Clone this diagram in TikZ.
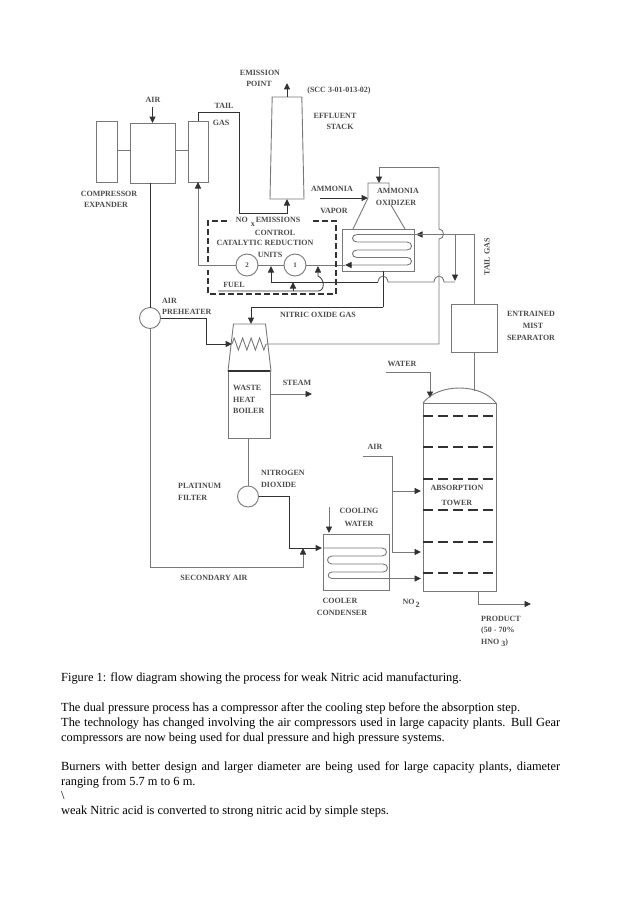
\documentclass[tikz,border=0pt]{standalone}
\usepackage{fontspec}
\setmainfont{Liberation Serif}
\usepackage{xcolor}
\usetikzlibrary{
  shapes.geometric,
  arrows.meta,
  positioning,
  decorations.pathmorphing
}
\definecolor{pipedark}{RGB}{50, 50, 50}
\definecolor{pipegray}{RGB}{120, 120, 120}
\definecolor{lblgray}{RGB}{75, 75, 75}
\tikzset{
  unit/.style 2 args = {
    rectangle, draw=pipegray, line width=0.9pt, inner sep=0pt, outer sep=0pt,
    minimum width=#1, minimum height=#2
  },
  taper/.style n args = {3}{
    trapezium, draw=pipegray, line width=0.9pt, inner sep=1pt, outer sep=0pt,
    trapezium stretches=true, trapezium left angle=#3, trapezium right angle=#3,
    minimum width=#1, minimum height=#2
  },
  vessel/.style = {
    circle, draw=pipegray, line width=0.9pt, inner sep=0pt, outer sep=0pt,
    minimum size=#1, font=\fontsize{7}{8}\selectfont\bfseries, text=lblgray
  },
  vessel/.default = 22pt,
  pipe/.style = {draw=pipegray, line width=0.9pt},
  pipedk/.style = {draw=pipedark, line width=1pt},
  arr/.style = {-{Triangle[length=6.5pt,width=6pt,color=pipedark]}, draw=pipegray, line width=0.9pt},
  arrdk/.style = {-{Triangle[length=6.5pt,width=6pt]}, draw=pipedark, line width=1pt},
  ctrlbox/.style = {draw=pipedark, line width=1.3pt, dash pattern=on 6pt off 3pt},
  tray/.style = {draw=pipedark, line width=1.6pt, dash pattern=on 10pt off 5pt},
  lbl/.style = {font=\fontsize{8}{9.6}\selectfont\bfseries, text=lblgray, inner sep=0pt},
  body/.style = {font=\fontsize{12.4}{14.7}\selectfont, text=black, inner sep=0pt, anchor=base west},
}
\begin{document}
\begin{tikzpicture}[x=1pt, y=-1pt]
  \useasboundingbox (0,0) rectangle (638,903);

  %% Compressor train
  \node[unit={45pt}{60pt}] (compressor) at (152.5,153) {};
  \node[unit={21pt}{61pt}, left=13pt of compressor, yshift=1.5pt] (expander) {};
  \node[unit={20pt}{61pt}, right=13pt of compressor, yshift=1.5pt] (tailbox) {};
  \node[taper={34pt}{102pt}{85.8}] (stack) at (287,148) {};
  \coordinate (shaft) at (0,150);
  \coordinate (airin) at (152.5,107);

  %% Ammonia oxidizer
  \node[unit={72pt}{42pt}] (oxbox) at (378,250) {};
  \node[vessel] (unit1) at (295,265) {1};
  \node[vessel] (unit2) at (247,265) {2};
  \coordinate (oxin) at (414,234.5);
  \coordinate (oxout) at (352,265);
  \coordinate (oxneck) at (379,183);
  \coordinate (ammin) at (320,198);
  \coordinate (fuelin) at (218,291);
  \coordinate (nitric) at (383,307);

  %% Waste heat boiler
  \node[vessel=21pt] (preheat) at (150,318) {};
  \node[taper={43pt}{47pt}{80.3}] (hood) at (249.5,347.5) {};
  \node[unit={42pt}{67pt}, below=0pt of hood, xshift=-0.5pt] (boiler) {};
  \node[vessel=21pt, below=48pt of boiler, xshift=-1pt] (filter) {};
  \coordinate (coilin) at (232,344);
  \coordinate (coilout) at (266,344);

  %% Cooler and tower
  \node[unit={66pt}{56pt}] (cooler) at (356,562) {};
  \node[unit={73pt}{188pt}] (tower) at (459.5,497) {};
  \node[unit={46pt}{48pt}] (separator) at (474,328) {};
  \coordinate (coolin) at (322,548);
  \coordinate (secjoin) at (303,548);
  \coordinate (domein) at (430,398);
  \coordinate (domeout) at (474,391);
  \coordinate (waterin) at (386,372);
  \coordinate (secair) at (363,456);
  \coordinate (cwin) at (329,507);

  %% Upper connectors
  \draw[pipe] (expander.east |- shaft) -- (compressor.west |- shaft);
  \draw[pipe] (compressor.east |- shaft) -- (tailbox.west |- shaft);
  \draw[arrdk] (airin) -- (compressor.north);
  \draw[arrdk] (tailbox.north) -- ++(0,-9) -- ++(41,0) -- ++(0,101) -| (stack.south);
  \draw[arrdk] (stack.north) -- ++(0,-14);
  \draw[pipedk] (compressor.south -| preheat) -- (preheat.north);
  \draw[arrdk] (ammin) -- (368,198);
  \draw[pipe] ([xshift=11pt]oxbox.north west) -- ++(15,-31) -- ++(0,-15) -- ++(21,0) -- ++(0,4);
  \draw[pipe] ([xshift=-9pt]oxbox.north east) -- ++(-14,-24);

  %% Coil and reactor line
  \draw[pipe] (oxin) -- (357,234.5)
    .. controls +(-6,0) and +(-6,0) .. ++(0,7.5) -- (407,242)
    .. controls +(6,0) and +(6,0) .. ++(0,8) -- (357,250)
    .. controls +(-6,0) and +(-6,0) .. ++(0,7.5) -- (407,257.5)
    .. controls +(6,0) and +(6,0) .. ++(0,7.5) -- (oxout);
  \draw[arrdk] (oxout) -- (345,265);
  \draw[arrdk] (422,234.5) -- (416,234.5);
  \draw[pipe] (345,265) -- (unit1.east);
  \draw[pipe] (unit1.west) -- (unit2.east);
  \draw[arr] (unit2.west) -| (tailbox.south);
  \draw[arrdk] (278,282) -- (271,282) -- ++(0,-16);
  \draw[pipedk] (378,282) -- (278,282);
  \draw[pipe] (378,282) .. controls +(1,-8) and +(-1,-8) .. ++(10,0) -- (434,282)
    .. controls +(1,-8) and +(-1,-8) .. ++(10,0) -- (455,282);
  \draw[arr] (455,234.5) -- (455,281);
  \draw[arrdk, line width=0.8pt] (fuelin) -- (318,291) .. controls +(7,0) and +(7,3) .. (318,276) -- ++(0,-10);
  \draw[arrdk] (293,291) -- ++(0,-9);
  \draw[pipedk] (nitric |- oxbox.south) -- (nitric);
  \draw[arrdk] (nitric) -| ([xshift=1.5pt]hood.north);

  %% NOx control envelope
  \draw[ctrlbox] (313,221) -- (336,221) -- (336,294) -- (208,294) -- (208,270);
  \draw[ctrlbox] (208,262) -- (208,221) -- (230,221);

  %% Boiler connectors
  \draw[arrdk] (preheat.east) -- ++(46,0) |- (coilin);
  \draw[pipe, decorate, decoration={zigzag, amplitude=6pt, segment length=8.5pt}] (coilin) -- (coilout);
  \draw[pipe] (coilout) -- (439,344) -- (439,239)
    .. controls +(6,0) and +(6,0) .. (439,229) -- (439,167);
  \draw[arr] (439,167) -| (oxneck);
  \draw[line width=1.6pt, draw=pipedark] (boiler.north west) -- (boiler.north east);
  \draw[arr] ([yshift=10.5pt]boiler.east) -- ++(42,0);
  \draw[pipe] (boiler.south -| filter) -- (filter.north);

  %% Tower connectors
  \draw[pipe] (separator.north) |- (oxin);
  \draw[pipe] (separator.south) -- (domeout);
  \draw[arr] (waterin) -| (domein);
  \draw[pipe] (tower.north west) .. controls +(15,-20) and +(-15,-20) .. (tower.north east);
  \foreach \trayy in {416,447,479,510,542,573} {
    \draw[tray] (tower.west |- 0,\trayy) -- (tower.east |- 0,\trayy);
  }
  \draw[arr] (secair) -| (392,552) -- (421,552);
  \draw[arr] (392,491) -- (421,491);
  \draw[arr] ([xshift=18.5pt]tower.south) -- ++(0,13) -- ++(53,0);

  %% Cooler connectors
  \draw[arrdk] (filter.east) -- ++(31,0) |- (coolin);
  \draw[arr] (preheat.south) |- (303,567) -- (secjoin);
  \draw[arr] (cwin) -- ++(0,26);
  \draw[arr] (cooler.west |- coolin) -- (382,548)
    .. controls +(6,0) and +(6,0) .. ++(0,8) -- (332,556)
    .. controls +(-6,0) and +(-6,0) .. ++(0,8) -- (383,564)
    .. controls +(6,0) and +(6,0) .. ++(0,8) -- (332,572)
    .. controls +(-5,0) and +(-5,0) .. ++(0,6.5) -- (421,578.5);

  %% Labels
  \node[lbl] (lblair) at (153,100) {AIR};
  \node[lbl] (lbltail) at (224,106) {TAIL};
  \node[lbl] (lblgas) at (221,123) {GAS};
  \node[lbl] (lblemis) at (260,73) {EMISSION};
  \node[lbl] (lblpoint) at (259,84) {POINT};
  \node[lbl] (lblscc) at (339,91) {(SCC 3-01-013-02)};
  \node[lbl] (lbleff) at (335,116) {EFFLUENT};
  \node[lbl] (lblstack) at (340,127) {STACK};
  \node[lbl] (lblcomp) at (109,194) {COMPRESSOR};
  \node[lbl] (lblexp) at (106,205) {EXPANDER};
  \node[lbl] (lblamm) at (332,189) {AMMONIA};
  \node[lbl] (lblvap) at (334,211) {VAPOR};
  \node[lbl] (lbloxa) at (398,191) {AMMONIA};
  \node[lbl] (lbloxb) at (396,203) {OXIDIZER};
  \node[lbl] (lblnox) at (268,222) {NO\hspace{3pt}\raisebox{-4pt}{x}\hspace{1pt}EMISSIONS};
  \node[lbl] (lblctrl) at (275,233) {CONTROL};
  \node[lbl] (lblcat) at (265,243) {CATALYTIC REDUCTION};
  \node[lbl] (lblunits) at (270,255) {UNITS};
  \node[lbl] (lblfuel) at (234,285) {FUEL};
  \node[lbl] (lblno) at (318,315) {NITRIC OXIDE GAS};
  \node[lbl, anchor=west] (lblaira) at (162,301) {AIR};
  \node[lbl, anchor=west] (lblpre) at (162,312) {PREHEATER};
  \node[lbl, anchor=west] (lblwa) at (233,388) {WASTE};
  \node[lbl, anchor=west] (lblwb) at (233,400) {HEAT};
  \node[lbl, anchor=west] (lblwc) at (233,411) {BOILER};
  \node[lbl] (lblsteam) at (297,383) {STEAM};
  \node[lbl, anchor=west] (lblplat) at (178,486) {PLATINUM};
  \node[lbl, anchor=west] (lblfilt) at (178,498) {FILTER};
  \node[lbl, anchor=west] (lblnit) at (261,473) {NITROGEN};
  \node[lbl, anchor=west] (lbldiox) at (261,485) {DIOXIDE};
  \node[lbl] (lblcoola) at (359,511) {COOLING};
  \node[lbl] (lblcoolb) at (359,524) {WATER};
  \node[lbl] (lblsec) at (214,578) {SECONDARY AIR};
  \node[lbl] (lblcond) at (340,601) {COOLER};
  \node[lbl] (lblconb) at (342,613) {CONDENSER};
  \node[lbl] (lblno2) at (411,603) {NO\hspace{1pt}\raisebox{-3pt}{2}};
  \node[lbl] (lblwater) at (402,364) {WATER};
  \node[lbl] (lblaircol) at (375,447) {AIR};
  \node[lbl] (lblabsa) at (457,488) {ABSORPTION};
  \node[lbl] (lblabsb) at (457,503) {TOWER};
  \node[lbl, rotate=90] (lbltailg) at (487,257) {TAIL GAS};
  \node[lbl] (lblenta) at (531,314) {ENTRAINED};
  \node[lbl] (lblentb) at (533,326) {MIST};
  \node[lbl] (lblentc) at (531,338) {SEPARATOR};
  \node[lbl, anchor=west] (lblprod) at (481,619) {PRODUCT};
  \node[lbl, anchor=west] (lblpct) at (481,631) {(50 - 70\%};
  \node[lbl, anchor=west] (lblhno) at (481,643) {HNO\hspace{2pt}\raisebox{-2pt}{3})};

  %% Text below the figure
  \node[body] (line1) at (61,681) {Figure 1: flow diagram showing the process for weak Nitric acid manufacturing.};
  \node[body] (line2) at (61,711.5) {The dual pressure process has a compressor after the cooling step before the absorption step.};
  \node[body] (line3) at (61,726) {\makebox[499pt][s]{The technology has changed involving the air compressors used in large capacity plants. Bull Gear}};
  \node[body] (line4) at (61,741) {compressors are now being used for dual pressure and high pressure systems.};
  \node[body] (line5) at (61,770.5) {\makebox[499pt][s]{Burners with better design and larger diameter are being used for large capacity plants, diameter}};
  \node[body] (line6) at (61,785) {ranging from 5.7 m to 6 m.};
  \node[body] (line7) at (61,799.5) {\textbackslash};
  \node[body] (line8) at (61,814.5) {weak Nitric acid is converted to strong nitric acid by simple steps.};

\end{tikzpicture}
\end{document}
